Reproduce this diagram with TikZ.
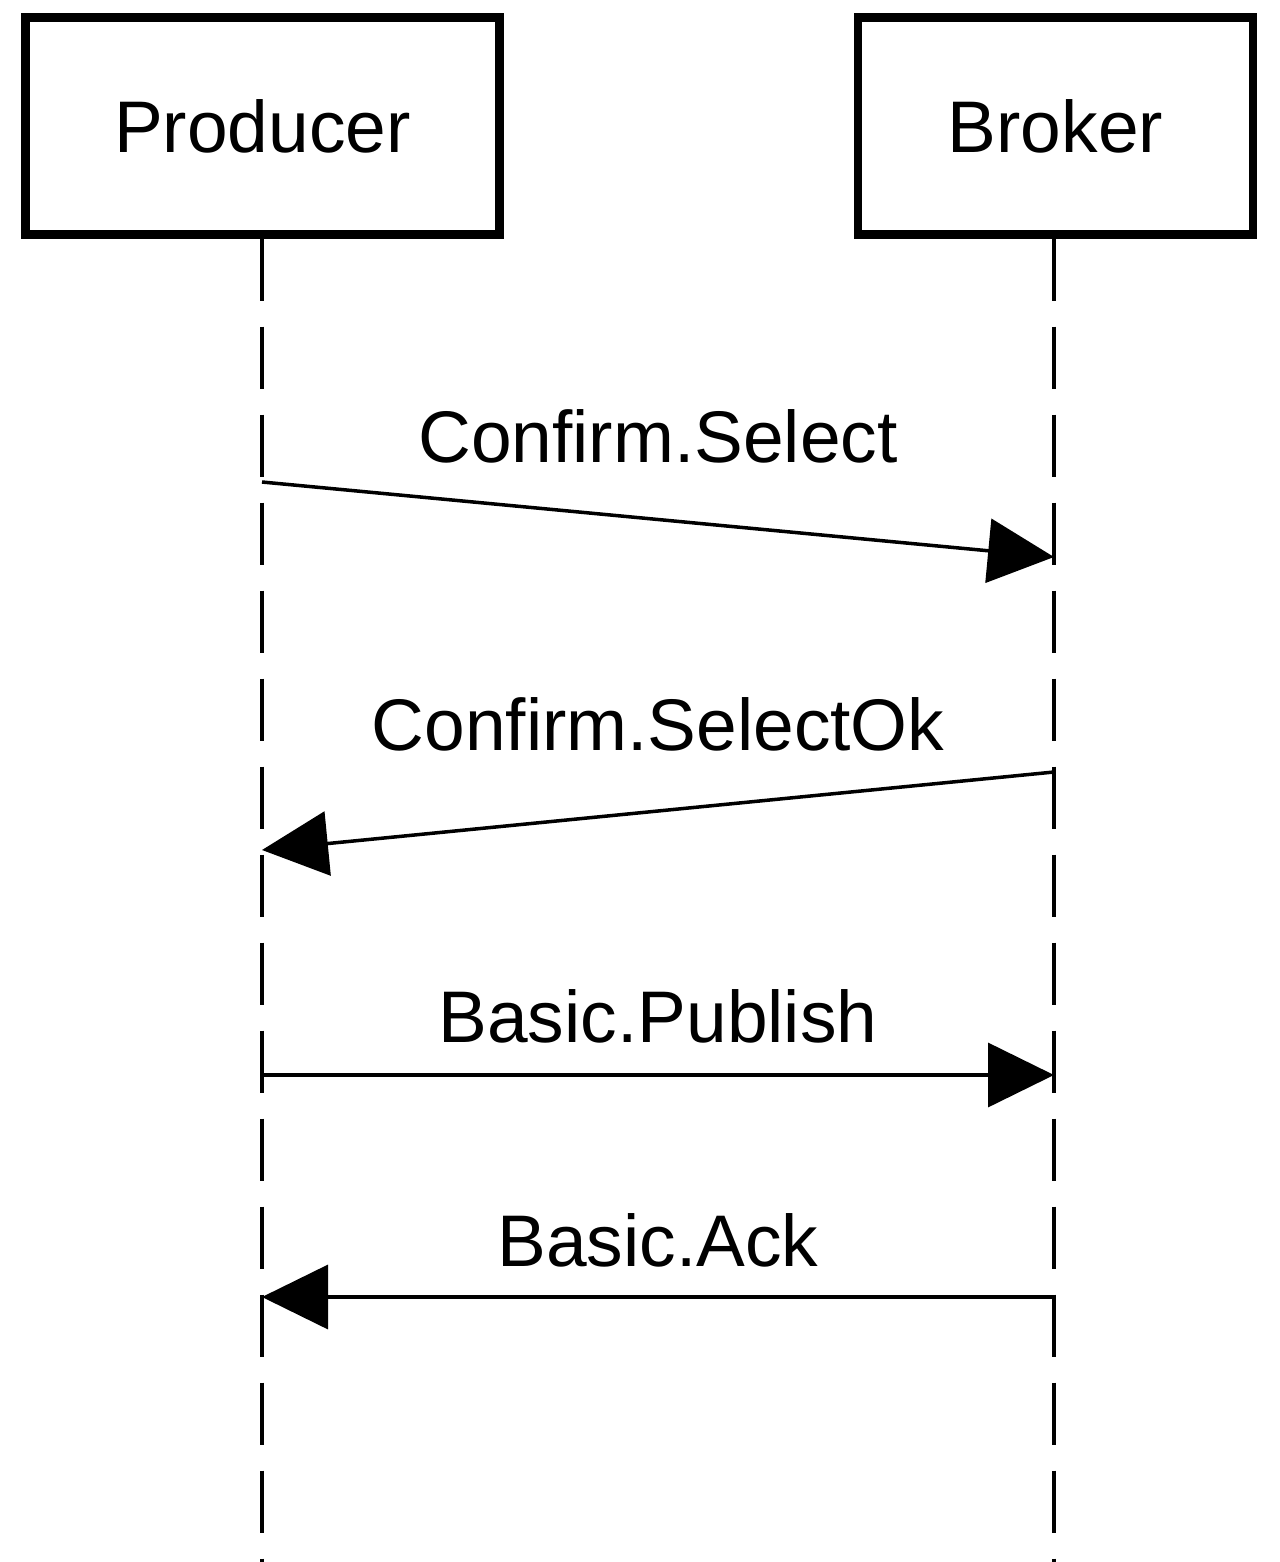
\documentclass[tikz,border=0pt]{standalone}
\usepackage{fontspec}
\setmainfont{Liberation Sans}
\usetikzlibrary{arrows.meta,positioning}
\tikzset{
  actor/.style={draw,line width=2.3pt,minimum height=2.17cm,inner sep=0pt,font=\fontsize{20.8}{25}\selectfont},
  life/.style={line width=1.1pt,dash pattern=on 0.62cm off 0.26cm},
  msg/.style={line width=1pt,-{Triangle[length=0.66cm,width=0.64cm]}},
  msglabel/.style={anchor=base,inner sep=0pt,font=\fontsize{20.8}{25}\selectfont}
}
\begin{document}
\begin{tikzpicture}
\useasboundingbox (0,0) rectangle (12.8,-15.62);
\node[actor,minimum width=4.74cm] (producer) at (2.625,-1.26) {Producer};
\node[actor,minimum width=3.95cm] (broker) at (10.555,-1.26) {Broker};
% lifelines
\coordinate (pend) at (2.62,-15.7);
\coordinate (bend) at (10.54,-15.7);
\draw[life] (producer.south -| pend) -- (pend);
\draw[life] (broker.south -| bend) -- (bend);
% messages
\coordinate (p1) at (2.62,-4.82);  \coordinate (b1) at (10.54,-5.57);
\coordinate (b2) at (10.54,-7.72); \coordinate (p2) at (2.62,-8.50);
\coordinate (p3) at (2.62,-10.75); \coordinate (b3) at (10.54,-10.75);
\coordinate (b4) at (10.54,-12.97); \coordinate (p4) at (2.62,-12.97);
\draw[msg] (p1) -- (b1);
\draw[msg] (b2) -- (p2);
\draw[msg] (p3) -- (b3);
\draw[msg] (b4) -- (p4);
\node[msglabel] (l1) at (6.58,-4.62) {Confirm.Select};
\node[msglabel] (l2) at (6.58,-7.50) {Confirm.SelectOk};
\node[msglabel] (l3) at (6.58,-10.42) {Basic.Publish};
\node[msglabel] (l4) at (6.58,-12.66) {Basic.Ack};
\end{tikzpicture}
\end{document}
